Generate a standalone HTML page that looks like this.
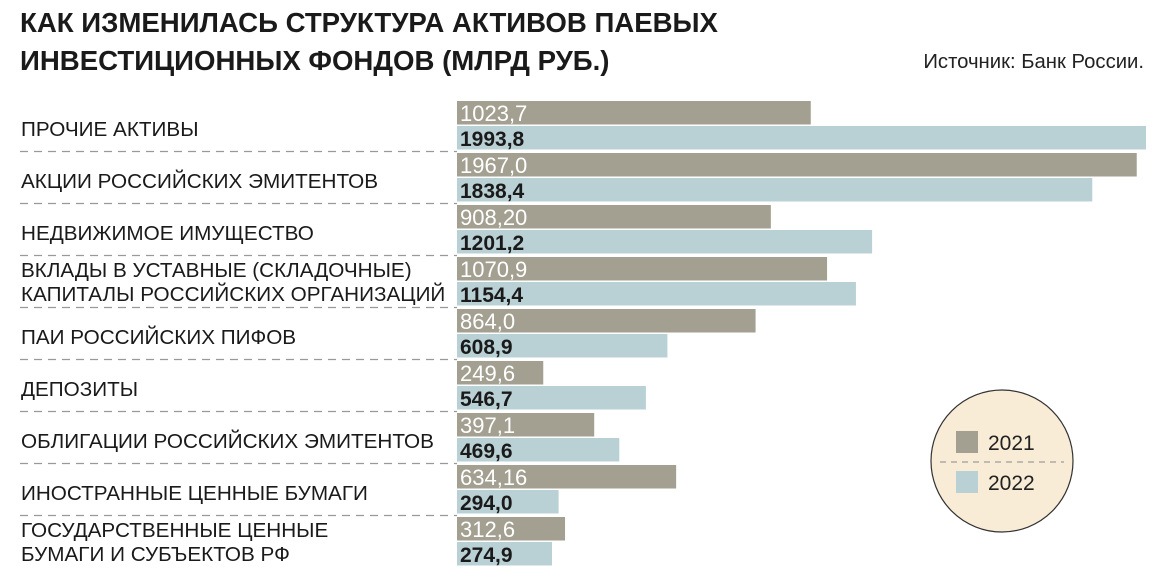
<!DOCTYPE html>
<html><head><meta charset="utf-8"><style>
body{margin:0;background:#fff;width:1162px;height:578px;overflow:hidden;font-family:"Liberation Sans",sans-serif}
</style></head><body>
<svg id="chart" width="1162" height="578" xmlns="http://www.w3.org/2000/svg" font-family="Liberation Sans, sans-serif">
<text x="20" y="32" font-size="27.6" font-weight="bold" fill="#1a1a1a">КАК ИЗМЕНИЛАСЬ СТРУКТУРА АКТИВОВ ПАЕВЫХ</text>
<text x="20" y="70" font-size="27.6" font-weight="bold" fill="#1a1a1a">ИНВЕСТИЦИОННЫХ ФОНДОВ (МЛРД РУБ.)</text>
<text x="1144" y="68" font-size="20.3" text-anchor="end" fill="#222">Источник: Банк России.</text>
<g id="bars"></g>
<g>
<circle cx="1002" cy="461" r="71" fill="#f9ecd7" stroke="#333" stroke-width="1.2"/>
<line x1="940" y1="462" x2="1064" y2="462" stroke="#888" stroke-dasharray="6,5"/>
<rect x="956" y="431" width="22" height="22" fill="#a3a091"/>
<text x="988" y="450" font-size="21" fill="#222">2021</text>
<rect x="956" y="471" width="22" height="22" fill="#b9d0d5"/>
<text x="988" y="490" font-size="21" fill="#222">2022</text>
</g>
</svg>
<script>
const categories=[["ПРОЧИЕ АКТИВЫ"],["АКЦИИ РОССИЙСКИХ ЭМИТЕНТОВ"],["НЕДВИЖИМОЕ ИМУЩЕСТВО"],["ВКЛАДЫ В УСТАВНЫЕ (СКЛАДОЧНЫЕ)","КАПИТАЛЫ РОССИЙСКИХ ОРГАНИЗАЦИЙ"],["ПАИ РОССИЙСКИХ ПИФОВ"],["ДЕПОЗИТЫ"],["ОБЛИГАЦИИ РОССИЙСКИХ ЭМИТЕНТОВ"],["ИНОСТРАННЫЕ ЦЕННЫЕ БУМАГИ"],["ГОСУДАРСТВЕННЫЕ ЦЕННЫЕ","БУМАГИ И СУБЪЕКТОВ РФ"]];
const values2021=[1023.7,1967.0,908.2,1070.9,864.0,249.6,397.1,634.16,312.6];
const values2022=[1993.8,1838.4,1201.2,1154.4,608.9,546.7,469.6,294.0,274.9];
const labels2021=["1023,7","1967,0","908,20","1070,9","864,0","249,6","397,1","634,16","312,6"];
const labels2022=["1993,8","1838,4","1201,2","1154,4","608,9","546,7","469,6","294,0","274,9"];
const NS="http://www.w3.org/2000/svg";
const g=document.getElementById('bars');
const x0=457, scale=(1146-457)/1993.8;
const xLen=v=>v*scale;
const yTop=i=>101+52*i;
function mk(t,a){const e=document.createElementNS(NS,t);for(const k in a)e.setAttribute(k,a[k]);g.appendChild(e);return e;}
categories.forEach((c,i)=>{
  const y=yTop(i);
  const r1=mk('rect',{x:x0,y:y,width:xLen(values2021[i]),height:23.5,fill:'#a3a091'});
  
  
  const r2=mk('rect',{x:x0,y:y+25,width:xLen(values2022[i]),height:23.5,fill:'#b9d0d5'});
  
  
  const t1=mk('text',{x:x0+3,y:y+20,'font-size':22,fill:'#fff'});t1.textContent=labels2021[i];
  
  
  const t2=mk('text',{x:x0+3,y:y+45,'font-size':21,'font-weight':'bold',fill:'#1a1a1a'});t2.textContent=labels2022[i];
  
  
  if(c.length===1){
    const t=mk('text',{x:21,y:y+35,'font-size':20.7,fill:'#1a1a1a'});t.textContent=c[0];
    
    
  } else {
    c.forEach((s,j)=>{const t=mk('text',{x:21,y:y+20+j*24,'font-size':20.7,fill:'#1a1a1a'});t.textContent=s;
      
      });
  }
  if(i<categories.length-1){
    const l=mk('line',{x1:20,x2:457,y1:y+50.5,y2:y+50.5,stroke:'#999','stroke-dasharray':'8,6','stroke-width':1.3});
    
    
  }
});
</script>
</body></html>
